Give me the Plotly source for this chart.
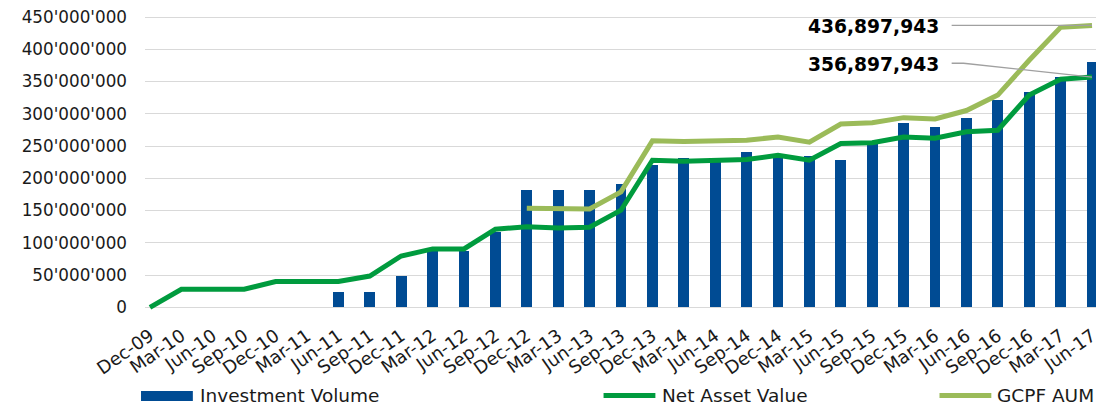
import plotly.graph_objects as go

# Quarter-end dates
quarters = [
    "Dec-09", "Mar-10", "Jun-10", "Sep-10", "Dec-10", "Mar-11", "Jun-11", "Sep-11",
    "Dec-11", "Mar-12", "Jun-12", "Sep-12", "Dec-12", "Mar-13", "Jun-13", "Sep-13",
    "Dec-13", "Mar-14", "Jun-14", "Sep-14", "Dec-14", "Mar-15", "Jun-15", "Sep-15",
    "Dec-15", "Mar-16", "Jun-16", "Sep-16", "Dec-16", "Mar-17", "Jun-17",
]

investment_volume = [
    0, 0, 0, 0, 0, 0, 24_000_000, 24_000_000,
    49_000_000, 88_000_000, 88_000_000, 117_000_000, 182_000_000, 182_000_000, 182_000_000, 191_000_000,
    221_000_000, 231_000_000, 229_000_000, 241_000_000, 238_000_000, 234_000_000, 228_000_000, 254_000_000,
    285_000_000, 280_000_000, 293_000_000, 322_000_000, 334_000_000, 357_000_000, 381_000_000,
]

net_asset_value = [
    0, 28_000_000, 28_000_000, 28_000_000, 40_000_000, 40_000_000, 40_000_000, 48_500_000,
    79_500_000, 90_500_000, 90_500_000, 121_000_000, 125_000_000, 123_000_000, 124_000_000, 150_500_000,
    228_000_000, 226_500_000, 227_000_000, 229_000_000, 235_500_000, 228_000_000, 254_000_000, 255_000_000,
    264_000_000, 262_000_000, 272_000_000, 274_500_000, 329_000_000, 353_500_000, 356_897_943,
]

gcpf_aum = [
    None, None, None, None, None, None, None, None,
    None, None, None, None, 153_500_000, 152_500_000, 152_500_000, 179_000_000,
    258_000_000, 257_000_000, 258_000_000, 259_000_000, 264_000_000, 256_000_000, 284_000_000, 286_000_000,
    294_000_000, 292_000_000, 305_000_000, 329_000_000, 383_000_000, 434_000_000, 436_897_943,
]

BLUE = "#004B93"
GREEN = "#009B3E"
OLIVE = "#9BBB59"
GREY_TEXT = "#1A1A1A"
FONT = "DejaVu Sans"

W, H = 1099, 406
M_L, M_R, M_T, M_B = 145, 0, 10, 96
PLOT_W = W - M_L - M_R
PLOT_H = H - M_T - M_B


def px_x(p):
    """Pixel column -> paper x."""
    return (p - M_L) / PLOT_W


def px_y(p):
    """Pixel row -> paper y."""
    return (H - M_B - p) / PLOT_H


fig = go.Figure()

fig.add_trace(go.Bar(
    x=quarters, y=investment_volume, name="Investment Volume",
    marker=dict(color=BLUE, line=dict(width=0)), width=0.34,
))
fig.add_trace(go.Scatter(
    x=quarters, y=net_asset_value, name="Net Asset Value", mode="lines",
    line=dict(color=GREEN, width=5),
))
fig.add_trace(go.Scatter(
    x=quarters, y=gcpf_aum, name="GCPF AUM", mode="lines",
    line=dict(color=OLIVE, width=5), connectgaps=False,
))

last = len(quarters) - 1
label_x = last - 4.8

# Value call-outs for the latest quarter
fig.add_annotation(
    x=label_x, y=gcpf_aum[-1] - 2_000_000, xref="x", yref="y",
    text=f"<b>{gcpf_aum[-1]:,}</b>", showarrow=False, xanchor="right",
    font=dict(family=FONT, size=18.7, color="#000000"),
)
fig.add_annotation(
    x=label_x, y=net_asset_value[-1] + 20_000_000, xref="x", yref="y",
    text=f"<b>{net_asset_value[-1]:,}</b>", showarrow=False, xanchor="right",
    font=dict(family=FONT, size=18.7, color="#000000"),
)
fig.add_shape(
    type="line", xref="x", yref="y", layer="above",
    x0=label_x + 0.33, y0=gcpf_aum[-1], x1=last, y1=gcpf_aum[-1],
    line=dict(color="#A0A0A0", width=1.3),
)
y_lead = net_asset_value[-1] + 21_400_000
fig.add_shape(
    type="path", xref="x", yref="y", layer="above",
    path=f"M {label_x + 0.33},{y_lead} L {label_x + 0.71},{y_lead} L {last},{net_asset_value[-1]}",
    line=dict(color="#A0A0A0", width=1.3),
)

# Legend row
leg_y = px_y(395.5)
fig.add_shape(type="rect", xref="paper", yref="paper",
              x0=px_x(141), x1=px_x(193), y0=px_y(401), y1=px_y(391),
              fillcolor=BLUE, line=dict(width=0))
fig.add_shape(type="line", xref="paper", yref="paper",
              x0=px_x(605), x1=px_x(657), y0=leg_y, y1=leg_y,
              line=dict(color=GREEN, width=5))
fig.add_shape(type="line", xref="paper", yref="paper",
              x0=px_x(942), x1=px_x(994), y0=leg_y, y1=leg_y,
              line=dict(color=OLIVE, width=5))
for name, lx in [("Investment Volume", 198), ("Net Asset Value", 662), ("GCPF AUM", 998)]:
    fig.add_annotation(x=px_x(lx), y=leg_y, xref="paper", yref="paper", text=name,
                       showarrow=False, xanchor="left", yanchor="middle",
                       font=dict(family=FONT, size=18.5, color=GREY_TEXT))

y_per_px = 450_000_000 / 290.3
fig.update_layout(
    width=W, height=H, autosize=False,
    margin=dict(l=M_L, r=M_R, t=M_T, b=M_B, pad=0),
    paper_bgcolor="white", plot_bgcolor="white",
    showlegend=False, separators=".'",
    font=dict(family=FONT, size=18, color=GREY_TEXT),
    bargap=0,
    xaxis=dict(
        type="category", range=[-5 / 31.5, (W - 150) / 31.5],
        showgrid=False, zeroline=False, showline=False, ticks="",
        tickangle=-35, tickfont=dict(family=FONT, size=18, color=GREY_TEXT),
        ticklabelstandoff=11,
    ),
    yaxis=dict(
        range=[(307.3 - (H - M_B)) * y_per_px, (307.3 - M_T) * y_per_px],
        tickmode="linear", tick0=0, dtick=50_000_000, tickformat=",.0f",
        showgrid=True, gridcolor="#D9D9D9", gridwidth=1.3,
        zeroline=False, showline=False, ticks="",
        tickfont=dict(family=FONT, size=16.8, color=GREY_TEXT),
        ticklabelstandoff=17,
    ),
)

fig.write_html("out.html")
